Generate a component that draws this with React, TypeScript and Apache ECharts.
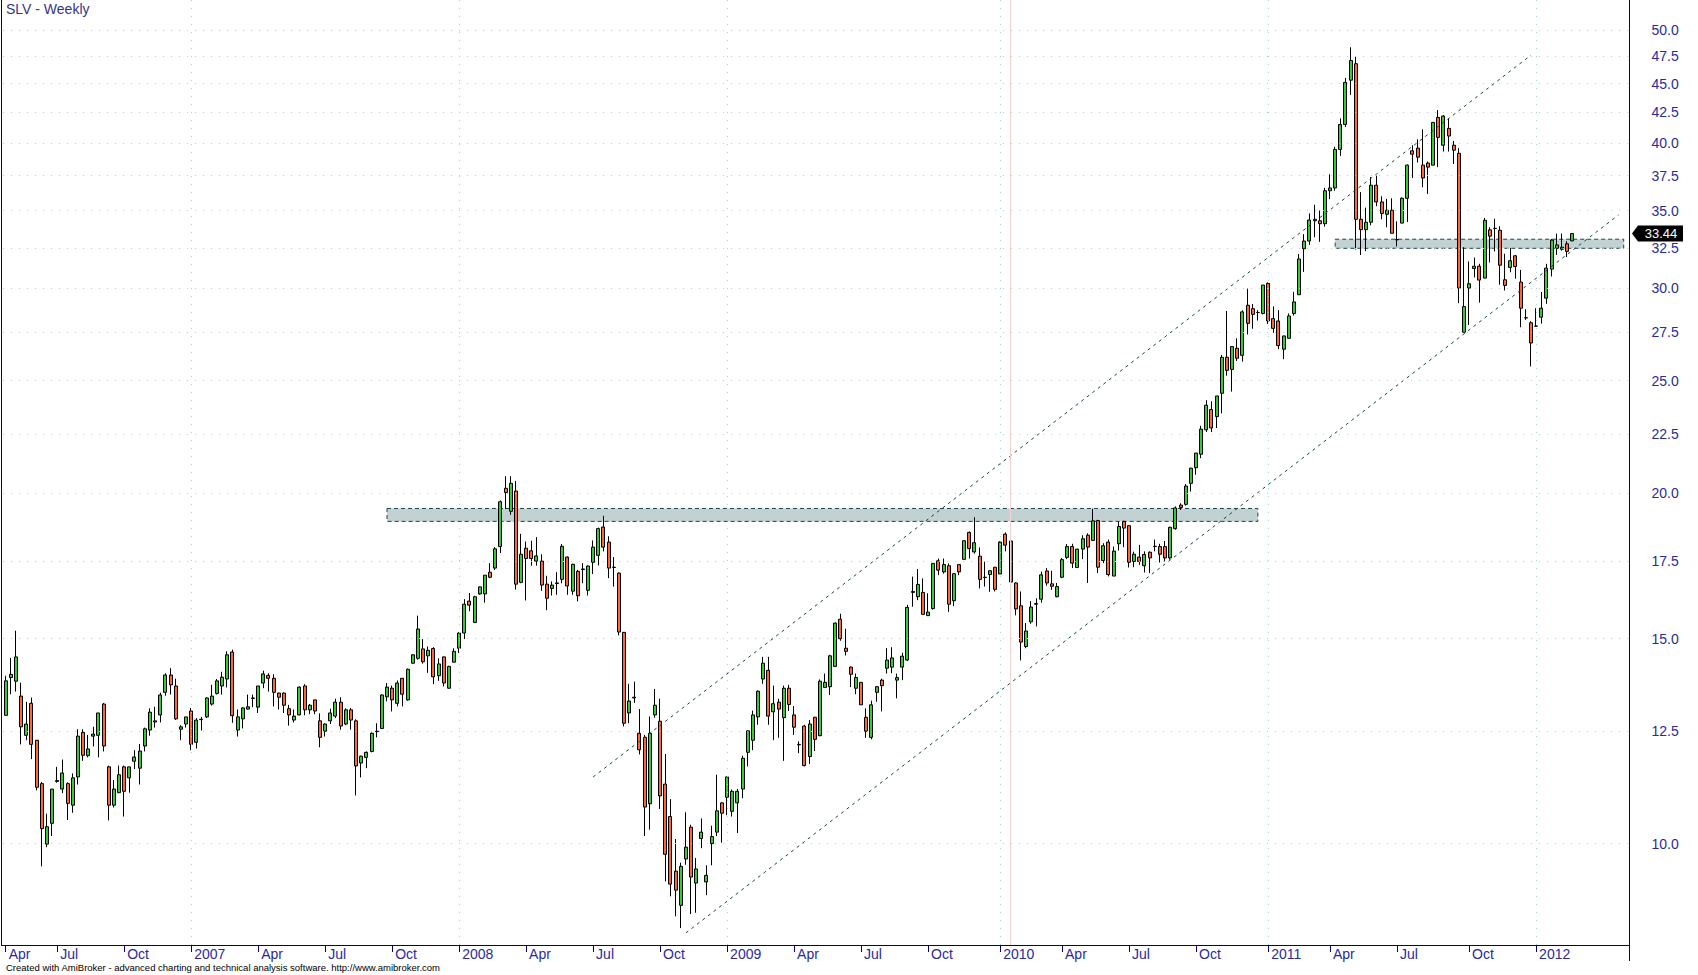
import React, { useEffect, useRef } from "react";
import * as echarts from "echarts";

// Weekly SLV bars, each [open, close, low, high]
const candles2006 = [
  [12.89, 13.8, 12.88, 13.94], [13.89, 13.98, 13.44, 14.44], [13.79, 14.47, 13.51, 15.24], [13.39, 12.6, 12.17, 13.75],
  [12.39, 12.67, 12.27, 13.24], [13.2, 12.17, 11.82, 13.35], [12.27, 11.18, 11.11, 12.27], [11.26, 10.3, 9.56, 11.3],
  [9.99, 10.34, 9.93, 10.61], [10.41, 11.14, 10.15, 11.14], [11.33, 11.31, 11.28, 11.64], [11.14, 11.5, 11.05, 11.81],
  [11.26, 10.83, 10.48, 11.29], [10.79, 11.39, 10.63, 11.49], [11.41, 12.37, 11.24, 12.54], [12.46, 11.91, 11.78, 12.54],
  [11.9, 12.06, 11.86, 12.4], [12.37, 12.42, 12.12, 12.6], [12.39, 12.95, 11.86, 12.95], [13.18, 12.13, 12.0, 13.21],
  [11.64, 10.79, 10.47, 11.67], [10.79, 11.14, 10.74, 11.34], [11.06, 11.46, 11.05, 11.67], [11.64, 11.09, 10.55, 11.67],
  [11.39, 11.64, 11.06, 11.64], [11.77, 11.87, 11.59, 12.03], [11.61, 12.01, 11.24, 12.18], [12.13, 12.55, 12.0, 12.58],
  [12.52, 12.97, 12.38, 13.07], [12.72, 12.75, 12.58, 13.11], [12.9, 13.42, 12.71, 13.48], [13.49, 13.96, 13.4, 14.01],
  [13.96, 13.69, 13.43, 14.15], [13.66, 12.8, 12.77, 13.86], [12.54, 12.6, 12.27, 12.64], [12.67, 12.85, 12.58, 12.85],
];
const candles2007 = [
  [13.0, 12.17, 12.03, 13.08], [12.22, 12.77, 12.07, 12.82], [12.79, 12.78, 12.51, 12.85], [12.85, 13.34, 12.82, 13.36],
  [13.18, 13.39, 13.14, 13.69], [13.46, 13.8, 13.43, 13.85], [13.66, 13.9, 13.43, 14.05], [13.85, 14.53, 13.62, 14.63],
  [14.61, 12.88, 12.7, 14.68], [12.52, 12.85, 12.36, 13.04], [12.8, 13.08, 12.56, 13.1], [13.05, 13.11, 13.04, 13.43],
  [13.33, 13.34, 13.1, 13.43], [13.1, 13.66, 12.95, 13.66], [13.74, 13.99, 13.6, 14.08], [13.95, 13.87, 13.51, 14.01],
  [13.87, 13.49, 13.12, 13.98], [13.47, 13.36, 13.04, 13.48], [13.47, 13.15, 12.95, 13.49], [13.06, 12.9, 12.63, 13.16],
  [12.77, 12.87, 12.71, 13.04], [12.9, 13.63, 12.89, 13.65], [13.66, 13.03, 12.89, 13.71], [13.03, 13.15, 12.92, 13.18],
  [13.29, 13.0, 12.92, 13.29], [12.75, 12.34, 12.1, 12.94], [12.49, 12.67, 12.36, 12.69], [12.75, 12.95, 12.67, 13.06],
  [12.87, 13.23, 12.82, 13.32], [13.23, 12.62, 12.53, 13.36], [12.67, 13.03, 12.64, 13.07], [13.03, 12.77, 12.53, 13.08],
  [12.75, 11.66, 11.0, 12.79], [11.73, 11.89, 11.4, 11.9], [11.86, 11.98, 11.61, 12.0], [12.0, 12.44, 11.98, 12.46],
  [12.48, 12.49, 12.34, 12.69], [12.56, 13.42, 12.55, 13.44], [13.37, 13.63, 13.25, 13.74], [13.6, 13.29, 12.99, 13.67],
  [13.2, 13.74, 13.12, 13.81], [13.87, 13.44, 13.12, 13.88], [13.29, 14.12, 13.27, 14.14], [14.29, 14.53, 14.28, 14.55],
  [14.43, 15.29, 14.39, 15.7], [14.7, 14.33, 14.28, 14.99], [14.5, 14.66, 14.02, 14.77], [14.71, 13.91, 13.71, 14.75],
  [13.94, 14.27, 13.8, 14.43], [14.47, 13.74, 13.65, 14.48], [13.6, 14.2, 13.59, 14.22], [14.32, 14.63, 14.31, 14.72],
];
const candles2008 = [
  [14.72, 15.17, 14.58, 15.19], [15.17, 16.06, 14.99, 16.22], [16.16, 16.03, 15.84, 16.42], [15.49, 16.3, 15.47, 16.33],
  [16.39, 16.62, 16.36, 16.63], [16.39, 17.01, 16.11, 17.01], [17.11, 16.94, 16.91, 17.42], [17.25, 17.92, 17.18, 17.98],
  [18.0, 19.67, 17.77, 19.72], [20.2, 20.03, 19.39, 20.69], [19.3, 20.4, 19.17, 20.69], [20.09, 16.71, 16.53, 20.5],
  [16.77, 17.73, 16.74, 18.46], [17.94, 17.58, 16.18, 18.18], [17.85, 17.58, 17.33, 18.21], [17.49, 17.67, 17.33, 18.34],
  [17.49, 16.68, 16.49, 17.73], [16.71, 16.25, 15.87, 16.99], [16.57, 16.68, 16.34, 16.8], [16.73, 16.75, 16.36, 17.11],
  [16.87, 18.01, 16.74, 18.09], [17.63, 16.65, 16.36, 17.65], [16.48, 17.38, 16.36, 17.4], [17.14, 16.33, 16.15, 17.19],
  [17.2, 17.22, 16.74, 17.42], [16.51, 17.32, 16.34, 17.34], [17.45, 17.98, 17.05, 18.22], [17.69, 18.65, 17.34, 18.69],
  [18.71, 17.98, 17.83, 19.13], [18.16, 17.25, 16.91, 18.37], [17.27, 17.28, 16.63, 17.63], [17.08, 15.2, 15.1, 17.1],
  [15.19, 12.69, 12.61, 15.2], [12.95, 13.26, 12.69, 13.72], [13.34, 13.36, 13.21, 13.78], [12.44, 12.04, 11.93, 13.05],
  [12.34, 10.75, 10.15, 12.4], [10.82, 12.44, 10.28, 12.86], [12.9, 13.15, 12.83, 13.58], [12.74, 10.99, 10.71, 13.32],
  [11.25, 9.79, 9.28, 11.94], [10.55, 9.23, 9.01, 10.92], [9.47, 9.12, 8.66, 10.09], [8.85, 9.56, 8.46, 9.63],
  [9.7, 9.93, 9.59, 10.64], [10.33, 9.36, 8.7, 10.38], [9.25, 9.51, 8.72, 9.72], [10.1, 10.23, 9.91, 10.51],
  [9.27, 9.39, 9.03, 9.58], [10.0, 10.14, 9.58, 10.36], [10.23, 10.67, 10.15, 11.46], [10.84, 10.62, 10.02, 10.85],
];
const candles2009 = [
  [10.96, 11.41, 10.58, 11.42], [10.66, 11.09, 10.55, 11.13], [10.84, 11.09, 10.21, 11.14], [11.14, 11.84, 10.94, 11.9],
  [11.98, 12.5, 11.65, 12.52], [12.27, 12.9, 12.03, 13.01], [12.85, 13.52, 12.65, 13.54], [13.85, 14.29, 13.72, 14.47],
  [14.09, 12.87, 12.65, 14.47], [12.98, 13.19, 12.27, 13.67], [13.23, 13.05, 12.33, 13.32], [12.83, 13.6, 11.78, 13.67],
  [13.6, 13.17, 13.0, 13.69], [12.9, 12.59, 12.4, 13.13], [12.17, 12.16, 11.96, 12.24], [12.62, 11.67, 11.65, 12.65],
  [11.88, 12.67, 11.71, 12.77], [12.84, 12.29, 12.01, 12.85], [12.38, 13.79, 12.37, 13.84], [13.62, 13.76, 13.62, 14.0],
  [13.64, 14.5, 13.42, 14.53], [14.2, 15.47, 14.2, 15.49], [15.59, 15.0, 14.94, 15.76], [14.72, 14.63, 14.51, 15.3],
  [14.18, 13.98, 13.63, 14.2], [13.6, 13.89, 13.44, 14.0], [13.76, 13.16, 13.16, 13.76], [12.84, 12.49, 12.33, 13.07],
  [12.34, 13.16, 12.29, 13.27], [13.49, 13.64, 13.24, 13.66], [13.82, 13.67, 12.99, 13.86], [14.15, 14.38, 14.0, 14.72],
  [14.18, 14.44, 14.01, 14.75], [13.82, 13.89, 13.33, 14.0], [14.18, 14.49, 13.82, 14.59], [14.38, 15.96, 14.35, 16.04],
  [16.44, 16.47, 15.98, 16.96], [16.3, 16.7, 16.19, 17.22], [16.44, 15.74, 15.74, 16.9], [15.7, 15.81, 15.7, 16.41],
  [15.92, 17.41, 15.89, 17.41], [17.5, 17.18, 17.01, 17.58], [17.12, 17.37, 17.06, 17.58], [17.33, 16.06, 15.82, 17.41],
  [16.17, 17.06, 16.0, 17.06], [17.37, 17.12, 17.01, 17.37], [17.55, 18.21, 17.55, 18.21], [18.51, 17.93, 17.58, 18.55],
  [17.81, 18.14, 17.75, 19.08], [17.66, 16.87, 16.57, 17.97], [16.94, 16.93, 16.63, 17.47], [17.03, 17.16, 16.46, 17.16],
  [17.28, 16.54, 16.47, 17.28],
];
const candles2010 = [
  [17.05, 18.16, 17.05, 18.19], [18.45, 18.05, 17.83, 18.51], [18.2, 16.78, 16.58, 18.42], [16.75, 15.91, 15.71, 16.77],
  [16.01, 14.9, 14.37, 16.47], [14.77, 15.23, 14.72, 15.47], [15.51, 15.97, 15.45, 16.16], [16.06, 16.08, 15.37, 16.25],
  [16.22, 17.02, 16.11, 17.13], [17.15, 16.75, 16.66, 17.25], [16.72, 16.64, 16.52, 17.16], [16.3, 16.63, 16.28, 16.75],
  [16.94, 17.54, 16.91, 17.6], [17.62, 18.0, 17.56, 18.09], [18.0, 17.42, 17.25, 18.1], [17.27, 17.91, 17.26, 17.92],
  [17.91, 18.28, 17.56, 18.41], [18.41, 17.98, 16.75, 18.48], [18.22, 18.94, 18.22, 19.4], [18.95, 17.28, 17.08, 18.98],
  [17.51, 18.03, 17.42, 18.12], [18.16, 17.03, 16.97, 18.25], [16.98, 17.84, 16.98, 18.0], [18.1, 18.73, 17.86, 18.92],
  [18.92, 18.67, 17.98, 18.94], [18.76, 17.45, 17.27, 18.76], [17.48, 17.73, 17.28, 17.82], [17.63, 17.48, 17.36, 18.06],
  [17.33, 17.72, 17.1, 17.83], [17.8, 17.6, 17.08, 17.83], [18.0, 18.01, 17.83, 18.25], [18.0, 17.73, 17.44, 18.1],
  [18.0, 17.6, 17.48, 18.2], [17.6, 18.7, 17.54, 18.72], [18.65, 19.43, 18.61, 19.49], [19.54, 19.45, 19.35, 19.61],
  [19.57, 20.29, 19.52, 20.37], [20.4, 21.02, 20.07, 21.04], [21.04, 21.66, 20.75, 21.66], [21.61, 22.71, 21.44, 22.86],
  [22.68, 23.81, 22.58, 24.05], [23.61, 22.76, 22.58, 24.0], [23.28, 24.25, 22.76, 24.25], [24.38, 26.18, 23.43, 26.3],
  [26.18, 25.51, 25.24, 28.69], [25.56, 26.74, 24.46, 26.74], [26.65, 26.13, 25.99, 27.18], [26.28, 28.64, 25.96, 28.73],
  [29.02, 28.0, 27.39, 29.99], [28.82, 28.5, 27.7, 29.09], [28.6, 28.61, 28.15, 28.74], [28.55, 30.2, 28.5, 30.2],
];
const candles2011 = [
  [30.3, 28.13, 27.96, 30.36], [28.26, 27.72, 27.48, 28.95], [28.13, 26.79, 26.6, 28.74], [26.6, 27.31, 26.08, 27.31],
  [27.18, 28.41, 27.18, 28.55], [28.55, 29.21, 28.43, 29.8], [29.63, 31.8, 29.63, 32.11], [32.45, 32.95, 31.0, 33.4],
  [32.95, 34.35, 32.7, 34.8], [34.4, 34.3, 33.2, 35.4], [34.3, 34.1, 32.9, 35.0], [34.1, 36.4, 33.9, 36.6],
  [36.4, 36.6, 35.8, 37.6], [36.6, 39.5, 36.4, 39.7], [39.5, 41.5, 39.0, 42.0], [41.5, 45.1, 41.3, 45.5],
  [45.3, 47.1, 44.0, 48.35], [46.8, 34.4, 32.4, 47.5], [34.4, 33.7, 32.05, 36.3], [33.7, 34.2, 32.3, 35.2],
  [34.2, 36.8, 34.0, 37.4], [36.8, 35.6, 35.3, 37.5], [35.6, 34.8, 34.4, 36.0], [34.74, 35.02, 33.86, 35.82],
  [35.02, 33.46, 33.46, 35.86], [33.05, 33.03, 32.6, 34.26], [34.14, 35.86, 34.14, 35.93], [35.86, 38.29, 34.21, 38.34],
  [39.39, 39.13, 37.33, 39.83], [39.6, 38.9, 38.49, 40.3], [38.29, 37.33, 36.65, 41.1], [38.45, 38.14, 36.17, 38.57],
  [38.29, 41.67, 38.29, 41.7], [42.08, 40.45, 38.14, 42.7], [39.83, 42.19, 39.33, 42.28], [41.18, 40.56, 39.33, 42.0],
  [39.83, 39.44, 38.37, 40.17], [39.2, 30.02, 29.14, 39.6], [27.51, 28.94, 27.5, 32.55], [30.02, 30.28, 27.91, 31.64],
  [31.21, 31.35, 30.66, 31.89], [31.35, 30.5, 29.17, 31.5], [30.62, 34.33, 30.62, 34.49], [33.69, 33.27, 31.58, 33.86],
  [33.78, 33.79, 32.28, 34.44], [33.66, 31.41, 30.22, 33.93], [30.52, 30.18, 29.88, 32.13], [31.27, 31.69, 30.98, 32.5],
  [32.0, 31.33, 30.58, 32.06], [30.38, 28.85, 27.78, 31.12], [28.31, 28.3, 28.19, 28.79], [28.03, 26.93, 25.71, 28.12],
];
const candles2012 = [
  [27.85, 27.84, 27.82, 28.85], [28.34, 28.85, 27.98, 29.79], [29.43, 31.23, 29.1, 31.5], [31.17, 33.01, 30.72, 33.08],
  [32.48, 32.7, 32.06, 33.44], [32.42, 32.55, 32.33, 33.44], [32.77, 32.28, 31.92, 32.94], [32.96, 33.44, 32.96, 33.48],
];

const FIRST_WEEK_UTC = Date.UTC(2006, 3, 28);
const EMPTY_WEEKS_AFTER = 11;
const LAST_PRICE = 33.44;

const tickWeeks = [0, 10, 23, 36, 49, 62, 75, 88, 101, 114, 127, 140, 153, 166, 179, 193, 205, 218, 231, 245, 257, 270, 284, 297];
const tickLabels = ["Apr", "Jul", "Oct", "2007", "Apr", "Jul", "Oct", "2008", "Apr", "Jul", "Oct", "2009", "Apr", "Jul", "Oct", "2010", "Apr", "Jul", "Oct", "2011", "Apr", "Jul", "Oct", "2012"];
const priceLevels = [10, 12.5, 15, 17.5, 20, 22.5, 25, 27.5, 30, 32.5, 35, 37.5, 40, 42.5, 45, 47.5, 50];
const yearLineWeeks = [36, 88, 140, 193, 245, 297];
const markerWeek = 195;

// horizontal zones: [fromWeek, toWeek, top, bottom]
const zones = [
  [74, 243, 19.41, 18.92],
  [258, 314, 33.07, 32.48],
];
// channel lines: [[week, price], [week, price]]
const upperChannel = [[114, 11.41], [296, 47.6]];
const lowerChannel = [[132, 8.38], [313, 34.7]];

const FONT = "'Liberation Sans', Arial, sans-serif";
const AXIS_BLUE = "#2a2aa0";
const FRAME = "#00007f";
const UP = "#33cc33";
const DOWN = "#ff6633";

const SLOT = 5.153;
const FIRST_CENTER = 5.67;
const PLOT_BOTTOM = 945;

function buildOption() {
  const candles = [...candles2006, ...candles2007, ...candles2008, ...candles2009, ...candles2010, ...candles2011, ...candles2012];
  const nSlots = candles.length + EMPTY_WEEKS_AFTER;
  const categories: string[] = [];
  for (let i = 0; i < nSlots; i++) {
    categories.push(new Date(FIRST_WEEK_UTC + i * 7 * 86400000).toISOString().slice(0, 10));
  }
  const labelMap = new Map<number, string>();
  tickWeeks.forEach((w, k) => labelMap.set(w, tickLabels[k]));
  const showTick = (index: number) => labelMap.has(index);

  const dotted = { type: [1, 7] as any, color: "#9dd9d9", width: 1 };

  return {
    animation: false,
    backgroundColor: "#ffffff",
    grid: {
      left: FIRST_CENTER - SLOT / 2,
      top: 0,
      width: SLOT * nSlots,
      height: PLOT_BOTTOM,
      containLabel: false,
      outerBoundsMode: "none",
    },
    xAxis: {
      type: "category",
      data: categories,
      boundaryGap: true,
      axisLine: { show: false },
      axisTick: {
        show: true,
        interval: showTick,
        alignWithLabel: true,
        length: 7,
        lineStyle: { color: FRAME, width: 1 },
      },
      axisLabel: {
        interval: showTick,
        formatter: (_v: string, index: number) => labelMap.get(index) || "",
        align: "left",
        padding: [0, 0, 0, 3],
        margin: 2,
        color: AXIS_BLUE,
        fontSize: 14,
        fontFamily: FONT,
      },
      splitLine: { show: false },
    },
    yAxis: {
      type: "log",
      logBase: 10,
      min: 8.182,
      max: 53.09,
      axisLine: { show: false },
      axisTick: { show: false },
      axisLabel: { show: false },
      splitLine: { show: false },
    },
    series: [
      {
        type: "line",
        name: "backdrop",
        data: [],
        z: 1,
        silent: true,
        markLine: {
          silent: true,
          symbol: ["none", "none"],
          animation: false,
          data: [
            ...priceLevels.map((v) => ({
              yAxis: v,
              lineStyle: dotted,
              label: {
                show: true,
                position: "end",
                distance: 20,
                formatter: () => v.toFixed(1),
                color: AXIS_BLUE,
                fontSize: 14,
                fontFamily: FONT,
              },
            })),
            ...yearLineWeeks.map((w) => ({ xAxis: w, lineStyle: dotted, label: { show: false } })),
            { xAxis: markerWeek, lineStyle: { type: "solid", color: "#f6d2d2", width: 1 }, label: { show: false } },
          ],
        },
        markArea: {
          silent: true,
          animation: false,
          itemStyle: { color: "#c2d1d1", borderColor: "#184848", borderWidth: 1, borderType: [4, 3] as any },
          data: zones.map((z) => [
            { coord: [z[0], z[2]] },
            { coord: [z[1], z[3]] },
          ]),
        },
      },
      {
        type: "candlestick",
        name: "SLV",
        z: 3,
        barWidth: 3.5,
        data: candles,
        itemStyle: {
          color: UP,
          color0: DOWN,
          borderColor: "#000000",
          borderColor0: "#000000",
          borderWidth: 1,
        },
      },
      {
        type: "line",
        name: "upper channel",
        data: upperChannel,
        z: 4,
        silent: true,
        showSymbol: false,
        symbol: "none",
        lineStyle: { color: "#124a44", width: 1, type: [3, 4] as any },
      },
      {
        type: "line",
        name: "lower channel",
        data: lowerChannel,
        z: 4,
        silent: true,
        showSymbol: false,
        symbol: "none",
        lineStyle: { color: "#124a44", width: 1, type: [3, 4] as any },
      },
    ],
  };
}

function buildGraphics(yTag: number) {
  return [
    { type: "line", z: 50, shape: { x1: 1.5, y1: 0, x2: 1.5, y2: PLOT_BOTTOM + 0.5 }, style: { stroke: FRAME, lineWidth: 1 } },
    { type: "line", z: 50, shape: { x1: 1, y1: PLOT_BOTTOM + 0.5, x2: 1629.5, y2: PLOT_BOTTOM + 0.5 }, style: { stroke: FRAME, lineWidth: 1 } },
    { type: "line", z: 50, shape: { x1: 1629.5, y1: 0, x2: 1629.5, y2: 961 }, style: { stroke: FRAME, lineWidth: 1 } },
    {
      type: "text", z: 50, x: 6, y: 2,
      style: { text: "SLV - Weekly", fill: "#34348a", font: `14px ${FONT}`, align: "left", verticalAlign: "top" },
    },
    {
      type: "text", z: 50, x: 6, y: 967,
      style: {
        text: "Created with AmiBroker - advanced charting and technical analysis software. http://www.amibroker.com",
        fill: "#000000", font: `9.5px ${FONT}`, align: "left", verticalAlign: "middle",
      },
    },
    {
      type: "polygon", z: 60,
      shape: { points: [[1632, yTag], [1638, yTag - 8], [1683, yTag - 8], [1683, yTag + 8], [1638, yTag + 8]] },
      style: { fill: "#000000" },
    },
    {
      type: "text", z: 61, x: 1661, y: yTag,
      style: { text: LAST_PRICE.toFixed(2), fill: "#ffffff", font: `13px ${FONT}`, align: "center", verticalAlign: "middle" },
    },
  ];
}

export default function App() {
  const ref = useRef<HTMLDivElement>(null);
  useEffect(() => {
    const el = ref.current;
    if (!el) return;
    const chart = echarts.init(el, undefined, { renderer: "svg", width: 1698, height: 975 });
    chart.setOption(buildOption() as any);
    const yTag = chart.convertToPixel({ yAxisIndex: 0 } as any, LAST_PRICE) as number;
    chart.setOption({ graphic: buildGraphics(yTag) } as any);
    return () => chart.dispose();
  }, []);
  return (
    <div
      ref={ref}
      style={{ position: "absolute", left: 0, top: 0, width: 1698, height: 975, background: "#ffffff" }}
    />
  );
}
